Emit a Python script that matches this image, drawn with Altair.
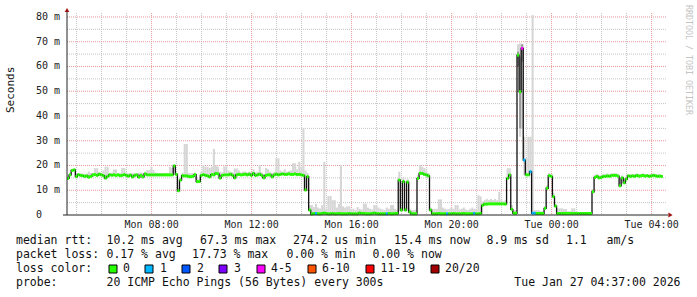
import altair as alt
import pandas as pd

# ---------------- data ----------------
START_MIN = 277          # Mon 04:37, minutes since Mon 00:00
STEP_MIN = 5             # 300 s steps
END_MIN = 1717           # Tue 04:37

median_ms = [
    14.8, 16.2, 18.0, 18.2, 15.5, 16.3, 16.0, 15.9, 15.6, 15.8, 15.3, 15.6,
    16.2, 16.3, 16.0, 16.5, 16.2, 15.9, 14.9, 15.6, 16.2, 16.1, 16.2, 16.0,
    16.2, 15.9, 16.0, 16.3, 16.0, 15.7, 16.1, 15.4, 16.0, 16.2, 15.3, 16.0,
    15.4, 16.6, 16.2, 16.2, 16.2, 16.2, 16.2, 16.2, 16.2, 16.2, 16.2, 16.2,
    16.2, 16.2, 16.2, 19.8, 16.4, 9.8, 14.1, 15.9, 15.8, 15.8, 15.5, 15.5,
    15.6, 16.3, 13.5, 13.5, 16.0, 16.3, 16.0, 15.8, 15.4, 16.3, 16.2, 16.8,
    16.6, 14.9, 16.0, 16.2, 16.2, 16.2, 16.5, 16.0, 15.0, 16.2, 16.4, 16.2,
    16.3, 16.5, 16.2, 16.5, 16.0, 16.8, 16.0, 16.2, 16.5, 16.0, 15.0, 16.0,
    16.2, 16.2, 15.4, 16.2, 16.5, 16.2, 16.4, 16.6, 16.4, 16.4, 16.6, 16.4,
    16.4, 16.6, 16.3, 16.4, 16.2, 16.0, 10.1, 15.5, 2.0, 0.4, 0.6, 0.6,
    0.5, 0.5, 0.6, 0.8, 0.6, 0.5, 0.5, 0.6, 0.5, 0.5, 0.6, 0.5,
    0.5, 0.5, 0.5, 0.6, 0.5, 0.5, 0.5, 0.5, 0.8, 0.6, 0.6, 0.5,
    0.5, 0.5, 0.6, 0.8, 0.6, 0.5, 0.5, 0.5, 0.5, 0.5, 0.6, 0.5,
    0.5, 0.6, 0.6, 14.1, 2.0, 13.5, 2.0, 13.3, 1.2, 0.5, 0.5, 0.5,
    14.8, 16.8, 16.8, 16.4, 16.2, 15.8, 2.0, 0.5, 0.5, 0.5, 0.6, 0.5,
    0.5, 0.5, 0.5, 0.5, 0.5, 0.6, 0.5, 0.5, 0.5, 0.5, 0.6, 0.5,
    0.5, 0.5, 0.5, 0.6, 0.5, 0.5, 0.6, 3.9, 4.4, 4.4, 4.5, 4.5,
    4.5, 4.5, 4.5, 4.5, 4.5, 4.5, 4.4, 14.8, 16.2, 2.3, 0.7, 0.7,
    64.6, 49.8, 67.3, 22.2, 16.2, 16.2, 17.5, 0.7, 0.7, 0.6, 0.6, 0.6,
    0.6, 2.7, 10.8, 15.9, 15.6, 7.4, 3.6, 0.6, 0.6, 0.6, 0.6, 0.6,
    0.6, 0.6, 0.6, 0.6, 0.6, 0.6, 0.6, 0.6, 0.6, 0.6, 0.6, 0.6,
    9.4, 15.2, 15.6, 15.0, 15.2, 15.6, 15.6, 15.8, 15.6, 16.0, 16.0, 16.0,
    15.7, 11.8, 15.0, 13.0, 14.5, 15.8, 15.6, 15.8, 15.6, 16.0, 15.7, 15.8,
    16.0, 15.7, 15.9, 15.6, 15.8, 16.0, 15.8, 15.6, 15.7, 15.6,
]

smoke_hi_ms = [
    16.0, 17.0, 18.6, 18.8, 16.5, 17.0, 16.8, 16.8, 16.6, 16.8, 17.5, 17.0,
    17.0, 18.9, 18.9, 17.2, 17.0, 18.0, 19.5, 19.5, 17.0, 17.0, 18.4, 18.4,
    17.0, 17.0, 19.0, 19.0, 17.2, 16.8, 17.0, 16.8, 17.0, 17.0, 17.0, 17.2,
    17.0, 17.5, 18.2, 18.2, 19.5, 18.2, 17.2, 17.0, 17.0, 17.0, 17.0, 17.0,
    17.0, 19.5, 19.0, 20.5, 17.2, 11.0, 15.0, 17.0, 28.7, 28.7, 17.0, 16.8,
    17.0, 17.2, 15.0, 14.5, 17.5, 20.2, 19.5, 19.5, 19.0, 19.5, 26.7, 20.0,
    19.5, 17.5, 17.2, 19.6, 19.6, 18.0, 17.5, 17.2, 18.8, 18.8, 18.0, 17.2,
    17.5, 17.5, 17.2, 17.5, 17.2, 18.5, 17.2, 17.5, 20.2, 17.2, 16.5, 19.0,
    18.5, 17.5, 17.0, 17.5, 22.9, 22.9, 18.0, 17.5, 18.5, 17.5, 17.8, 18.0,
    20.9, 20.9, 18.5, 21.5, 19.5, 35.0, 18.0, 17.0, 4.0, 4.0, 3.2, 4.5,
    3.0, 2.6, 4.0, 21.5, 2.6, 7.7, 7.7, 6.0, 6.0, 3.0, 4.5, 20.2,
    3.5, 3.0, 3.5, 3.5, 2.5, 2.5, 2.0, 3.2, 2.5, 2.2, 4.6, 4.6,
    3.0, 2.5, 2.2, 4.0, 4.0, 3.0, 2.5, 2.2, 2.0, 3.0, 2.5, 4.0,
    4.0, 2.5, 2.0, 17.5, 3.0, 15.0, 3.0, 14.5, 2.5, 2.0, 2.0, 2.2,
    16.0, 20.2, 19.5, 19.0, 18.0, 17.0, 3.0, 2.5, 2.5, 2.5, 6.3, 6.3,
    3.0, 2.5, 2.2, 2.5, 3.0, 2.5, 4.0, 4.0, 2.2, 2.5, 3.0, 2.2,
    2.0, 2.5, 3.0, 2.5, 2.5, 8.0, 7.5, 5.5, 6.0, 6.5, 6.0, 6.5,
    6.0, 6.5, 6.0, 9.4, 6.0, 5.5, 6.0, 18.9, 18.9, 4.0, 2.0, 2.0,
    69.0, 69.4, 69.0, 31.6, 23.0, 31.6, 31.6, 80.8, 2.0, 2.0, 2.0, 1.5,
    1.5, 3.5, 12.0, 17.0, 16.5, 9.0, 4.5, 2.7, 2.7, 2.7, 2.4, 2.4,
    1.5, 1.5, 2.7, 2.7, 1.5, 1.2, 1.2, 1.0, 1.0, 1.0, 1.0, 1.0,
    10.5, 16.2, 16.5, 16.0, 16.2, 16.5, 16.5, 16.8, 16.5, 16.8, 16.8, 16.8,
    16.5, 15.0, 16.0, 15.0, 15.5, 16.5, 16.5, 16.5, 16.5, 16.8, 16.5, 16.5,
    16.8, 16.5, 16.5, 16.5, 16.5, 16.8, 16.5, 16.5, 16.5, 16.2,
]

# smoke that reaches below the median (sparse)
smoke_lo_idx = [217, 218, 219]
smoke_lo_ms = [31.6, 35.0, 16.0]

# darker smoke core (sparse)
dark_idx = [216, 217, 218]
dark_lo_ms = [60.0, 35.0, 62.0]
dark_hi_ms = [66.0, 64.0, 69.0]

# loss class of each step (all "0" except these)
loss_idx = [119, 153, 182, 195, 218, 219, 222, 223, 224]
loss_cls = ["1", "1", "1", "1", "4-5", "1", "1", "1", "1"]

loss_labels = ["0", "1", "2", "3", "4-5", "6-10", "11-19", "20/20"]
loss_colors = ["#26ff00", "#00b8ff", "#0059ff", "#7e00ff", "#ff00ff",
               "#ff5500", "#ff0000", "#a10000"]

major_hours = [480, 720, 960, 1200, 1440, 1680]
major_hour_labels = ["Mon 08:00", "Mon 12:00", "Mon 16:00",
                     "Mon 20:00", "Tue 00:00", "Tue 04:00"]
minor_hours = [300, 360, 420, 540, 600, 660, 780, 840, 900, 1020, 1080,
               1140, 1260, 1320, 1380, 1500, 1560, 1620]
major_ms = [0, 10, 20, 30, 40, 50, 60, 70, 80]
major_ms_labels = ["\u00a00", "10 m", "20 m", "30 m", "40 m",
                   "50 m", "60 m", "70 m", "80 m"]
minor_ms = [5, 15, 25, 35, 45, 55, 65, 75]

# ---------------- tables ----------------
n = len(median_ms)
t0 = [START_MIN + STEP_MIN * i for i in range(n)]
t1 = [t + STEP_MIN for t in t0]
lo = list(median_ms)
for i, v in zip(smoke_lo_idx, smoke_lo_ms):
    lo[i] = v
loss = ["0"] * n
for i, c in zip(loss_idx, loss_cls):
    loss[i] = c

steps = pd.DataFrame({"t0": t0, "t1": t1, "med": median_ms,
                      "hi": smoke_hi_ms, "lo": lo, "loss": loss})
dark = pd.DataFrame({"t0": [t0[i] for i in dark_idx],
                     "t1": [t1[i] for i in dark_idx],
                     "lo": dark_lo_ms, "hi": dark_hi_ms})
line_df = pd.DataFrame({"t": t0 + [t1[-1]], "med": median_ms + [median_ms[-1]]})

# ---------------- layout ----------------
W, H = 697, 297
X0, X1 = 67, 667
Y0, Y1 = 215, 15
xs = alt.Scale(domain=[START_MIN, END_MIN], range=[X0, X1], nice=False, zero=False)
ys = alt.Scale(domain=[0, 80.8], range=[Y0, Y1], nice=False, zero=False)
MONO = "DejaVu Sans Mono"
one = pd.DataFrame({"k": [0]})


def X(f):
    return alt.X(f, type="quantitative", scale=xs, axis=None)


def Y(f):
    return alt.Y(f, type="quantitative", scale=ys, axis=None)


layers = []

# grid
layers.append(alt.Chart(pd.DataFrame({"t": minor_hours})).mark_rule(
    color="#c4c4c4", strokeDash=[1, 1], strokeWidth=1).encode(
    x=X("t"), y=alt.value(Y1 - 2), y2=alt.value(Y0)))
layers.append(alt.Chart(pd.DataFrame({"v": minor_ms})).mark_rule(
    color="#c4c4c4", strokeDash=[1, 1], strokeWidth=1).encode(
    y=Y("v"), x=alt.value(X0), x2=alt.value(X1)))
layers.append(alt.Chart(pd.DataFrame({"t": major_hours})).mark_rule(
    color="#e89a9a", strokeDash=[1, 1], strokeWidth=1).encode(
    x=X("t"), y=alt.value(Y1 - 2), y2=alt.value(Y0)))
layers.append(alt.Chart(pd.DataFrame({"v": major_ms[1:]})).mark_rule(
    color="#e89a9a", strokeDash=[1, 1], strokeWidth=1).encode(
    y=Y("v"), x=alt.value(X0), x2=alt.value(X1)))

# smoke
layers.append(alt.Chart(steps).mark_rect(color="#d6d6d6").encode(
    x=X("t0"), x2="t1", y=Y("lo"), y2="hi"))
layers.append(alt.Chart(dark).mark_rect(color="#9a9a9a").encode(
    x=X("t0"), x2="t1", y=Y("lo"), y2="hi"))

# median line + loss colour segments
layers.append(alt.Chart(line_df).mark_line(
    interpolate="step-after", color="#111111", strokeWidth=1.3).encode(
    x=X("t"), y=Y("med")))
layers.append(alt.Chart(steps).mark_rule(strokeWidth=3, strokeCap="butt").encode(
    x=X("t0"), x2="t1", y=Y("med"),
    color=alt.Color("loss:N", scale=alt.Scale(domain=loss_labels, range=loss_colors),
                    legend=None)))

# axes
layers.append(alt.Chart(one).mark_rule(color="#222222", strokeWidth=1).encode(
    x=alt.value(63), x2=alt.value(668), y=alt.value(Y0)))
layers.append(alt.Chart(one).mark_rule(color="#222222", strokeWidth=1).encode(
    x=alt.value(X0), y=alt.value(Y0), y2=alt.value(11)))
layers.append(alt.Chart(one).mark_point(
    shape="triangle-up", filled=True, color="#a01010", size=22, opacity=1).encode(
    x=alt.value(X0), y=alt.value(10)))
layers.append(alt.Chart(one).mark_point(
    shape="triangle-right", filled=True, color="#a01010", size=24, opacity=1).encode(
    x=alt.value(670.5), y=alt.value(Y0)))

# axis labels
layers.append(alt.Chart(pd.DataFrame({"t": major_hours, "lab": major_hour_labels}))
              .mark_text(font=MONO, fontSize=10, color="#222222",
                         align="center", baseline="middle")
              .encode(x=X("t"), y=alt.value(225), text="lab:N"))
layers.append(alt.Chart(pd.DataFrame({"v": major_ms, "lab": major_ms_labels}))
              .mark_text(font=MONO, fontSize=10, color="#222222",
                         align="left", baseline="middle")
              .encode(y=Y("v"), x=alt.value(36), text="lab:N"))


def txt(text, x, y, size=11.5, color="#111111", align="left", angle=0):
    return alt.Chart(one).mark_text(
        font=MONO, fontSize=size, color=color, align=align,
        baseline="middle", angle=angle, text=text).encode(
        x=alt.value(x), y=alt.value(y))


layers.append(txt("Seconds", 10.5, 113, size=11, angle=270))
layers.append(txt("RRDTOOL / TOBI OETIKER", 688, 5, size=8.3,
                  color="#c4c4c4", angle=90))

# legend text
row1 = [("median rtt:", 16), ("10.2 ms avg", 106.5), ("67.3 ms max", 200),
        ("274.2 us min", 293), ("15.4 ms now", 394), ("8.9 ms sd", 486.5),
        ("1.1", 566), ("am/s", 606.5)]
row2 = [("packet loss:", 16), ("0.17 % avg", 106.5), ("17.73 % max", 192),
        ("0.00 % min", 286.5), ("0.00 % now", 372.5)]
for s, x in row1:
    layers.append(txt(s, x, 241))
for s, x in row2:
    layers.append(txt(s, x, 255))
layers.append(txt("loss color:", 16, 269))
box_x = [109, 145, 182, 219, 257, 308, 366, 431]
lab_x = [123, 160, 197, 234, 271, 322, 380.5, 445]
boxes = pd.DataFrame({"lab": loss_labels, "col": loss_colors,
                      "bx0": box_x, "bx1": [b + 8 for b in box_x]})
layers.append(alt.Chart(boxes).mark_rect(stroke="#000000", strokeWidth=1).encode(
    x=alt.X("bx0:Q", scale=None, axis=None), x2="bx1:Q",
    y=alt.value(265), y2=alt.value(273),
    fill=alt.Fill("col:N", scale=None)))
for s, x in zip(loss_labels, lab_x):
    layers.append(txt(s, x, 269))
layers.append(txt("probe:", 16, 283))
layers.append(txt("20 ICMP Echo Pings (56 Bytes) every 300s", 106.5, 283))
layers.append(txt("Tue Jan 27 04:37:00 2026", 680.5, 283, align="right"))

chart = alt.layer(*layers).resolve_scale(
    x="independent", y="independent", color="independent", fill="independent"
).properties(
    width=W, height=H, padding=0, autosize="none", background="white"
).configure_view(stroke=None)

chart.save("out.html", embed_options={"renderer": "svg", "actions": False})
